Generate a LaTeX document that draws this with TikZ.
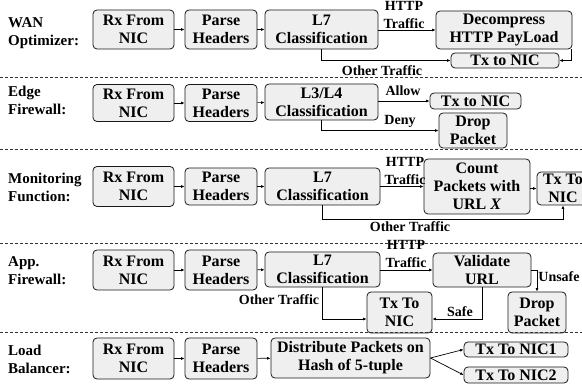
\documentclass[tikz,border=0pt]{standalone}
\usepackage{fontspec}
\setmainfont{Liberation Serif}
\usetikzlibrary{arrows.meta}
\definecolor{boxgray}{HTML}{EFEFEF}
\newcommand\boxfont{\fontsize{16}{18}\selectfont\bfseries}
\newcommand\lblfont{\fontsize{14}{18}\selectfont\bfseries}
\newcommand\ttlfont{\fontsize{15}{18}\selectfont\bfseries}
\tikzset{
  box/.style={draw=black!90, line width=0.8pt, rounded corners=4pt, fill=boxgray,
              align=center, inner sep=0pt, font=\boxfont},
  lbl/.style={font=\lblfont, align=center, inner sep=0pt},
  ttl/.style={font=\ttlfont, align=left, anchor=west, inner sep=0pt},
  flow/.style={-{Latex[length=3.5pt,width=3pt]}, line width=0.7pt},
  sep/.style={dash pattern=on 3pt off 2pt, line width=0.7pt, draw=black!80}
}
\begin{document}
\begin{tikzpicture}[x=1pt, y=-1pt]
\useasboundingbox (0,0) rectangle (582,385);

% ---------- WAN optimizer ----------
\node[ttl] (tA) at (8,33.5) {WAN\\Optimizer:};
\node[box, minimum width=81pt, minimum height=39pt] (rxA) at (133.5,29.5) {Rx From\\NIC};
\node[box, minimum width=72pt, minimum height=39pt] (paA) at (221,29.5) {Parse\\Headers};
\node[box, minimum width=113pt, minimum height=39pt] (l7A) at (321.5,29.5) {L7\\Classification};
\node[box, minimum width=136pt, minimum height=38pt] (decA) at (504,30) {Decompress\\HTTP PayLoad};
\node[box, minimum width=108pt, minimum height=15pt] (txA) at (505,60.5) {Tx to NIC};
\draw[flow] (rxA) -- (paA);
\draw[flow] (paA) -- (l7A);
\draw[flow] (l7A.east |- decA.west) -- (decA.west);
\draw[flow] (l7A.south) |- (txA.west);
\draw[flow] ([xshift=-1pt]decA.south east) |- (txA.east);
\node[lbl] (hA) at (404,15) {HTTP\\Traffic};
\node[lbl] (oA) at (382,70.5) {Other Traffic};

\coordinate (s1a) at (0,77); \coordinate (s1b) at (582,77);
\draw[sep] (s1a) -- (s1b);

% ---------- Edge firewall ----------
\node[ttl] (tB) at (8,100.5) {Edge\\Firewall:};
\node[box, minimum width=81pt, minimum height=37pt] (rxB) at (133.5,103) {Rx From\\NIC};
\node[box, minimum width=72pt, minimum height=37pt] (paB) at (221,103) {Parse\\Headers};
\node[box, minimum width=113pt, minimum height=36pt] (l3B) at (321.5,102) {L3/L4\\Classification};
\node[box, minimum width=91pt, minimum height=16pt] (txB) at (475.5,101) {Tx to NIC};
\node[box, minimum width=68pt, minimum height=35pt] (drB) at (473,130.5) {Drop\\Packet};
\draw[flow] (rxB) -- (paB);
\draw[flow] (paB) -- (l3B);
\draw[flow] (l3B.east |- txB.west) -- (txB.west);
\draw[flow] (l3B.south) |- (drB.west);
\node[lbl] (alB) at (403,91) {Allow};
\node[lbl] (dnB) at (400,121.5) {Deny};

\coordinate (s2a) at (0,149); \coordinate (s2b) at (582,149);
\draw[sep] (s2a) -- (s2b);

% ---------- Monitoring function ----------
\node[ttl] (tC) at (8,187) {Monitoring\\Function:};
\node[box, minimum width=81pt, minimum height=40pt] (rxC) at (133.5,186.5) {Rx From\\NIC};
\node[box, minimum width=72pt, minimum height=37pt] (paC) at (221,186.5) {Parse\\Headers};
\node[box, minimum width=115pt, minimum height=37pt] (l7C) at (322.5,186.5) {L7\\Classification};
\node[box, minimum width=106pt, minimum height=55pt] (cnC) at (477,186.5) {Count\\Packets with\\URL \textit{X}};
\node[box, minimum width=52pt, minimum height=33pt] (txC) at (563,188.5) {Tx To\\NIC};
\draw[flow] (rxC) -- (paC);
\draw[flow] (paC) -- (l7C);
\draw[flow] (l7C.east |- cnC.west) -- (cnC.west);
\draw[flow] (cnC.east |- txC.west) -- (txC.west);
\draw[flow] (l7C.south) -- ++(0,13.5) -| (txC.south);
\node[lbl] (hC) at (405,171) {HTTP\\Traffic};
\node[lbl] (oC) at (410,226.5) {Other Traffic};

\coordinate (s3a) at (0,243); \coordinate (s3b) at (582,243);
\draw[sep] (s3a) -- (s3b);

% ---------- Application firewall ----------
\node[ttl] (tD) at (8,271) {App.\\Firewall:};
\node[box, minimum width=81pt, minimum height=40pt] (rxD) at (133.5,270) {Rx From\\NIC};
\node[box, minimum width=72pt, minimum height=40pt] (paD) at (221,270) {Parse\\Headers};
\node[box, minimum width=115pt, minimum height=35pt] (l7D) at (322.5,269.5) {L7\\Classification};
\node[box, minimum width=98pt, minimum height=34pt] (vaD) at (482,270) {Validate\\URL};
\node[box, minimum width=65pt, minimum height=41pt] (txD) at (399.5,312.5) {Tx To\\NIC};
\node[box, minimum width=58pt, minimum height=41pt] (drD) at (537,312.5) {Drop\\Packet};
\coordinate (yD) at (0,319);
\draw[flow] (rxD) -- (paD);
\draw[flow] (paD) -- (l7D);
\draw[flow] (l7D.east |- vaD.west) -- (vaD.west);
\draw[flow] (vaD.east) -| (drD.north);
\draw[flow] (vaD.south) |- (txD.east |- yD);
\draw[flow] (l7D.south) |- (txD.west |- yD);
\node[lbl] (hD) at (406,254) {HTTP\\Traffic};
\node[lbl] (oD) at (279,300) {Other Traffic};
\node[lbl] (sfD) at (460,311.5) {Safe};
\node[lbl] (usD) at (559,277) {Unsafe};

\coordinate (s4a) at (0,332.5); \coordinate (s4b) at (582,332.5);
\draw[sep] (s4a) -- (s4b);

% ---------- Load balancer ----------
\node[ttl] (tE) at (8,359) {Load\\Balancer:};
\node[box, minimum width=81pt, minimum height=41pt] (rxE) at (133.5,358.5) {Rx From\\NIC};
\node[box, minimum width=72pt, minimum height=41pt] (paE) at (221,358.5) {Parse\\Headers};
\node[box, minimum width=159pt, minimum height=40pt] (diE) at (350.5,358) {Distribute Packets on\\Hash of 5-tuple};
\node[box, minimum width=104pt, minimum height=15pt] (n1E) at (516,349.5) {Tx To NIC1};
\node[box, minimum width=104pt, minimum height=16pt] (n2E) at (516,375) {Tx To NIC2};
\draw[flow] (rxE) -- (paE);
\draw[flow] (paE) -- (diE);
\draw[flow] (diE.east) -- (n1E.west);
\draw[flow] (diE.east) -- (n2E.west);
\end{tikzpicture}
\end{document}
